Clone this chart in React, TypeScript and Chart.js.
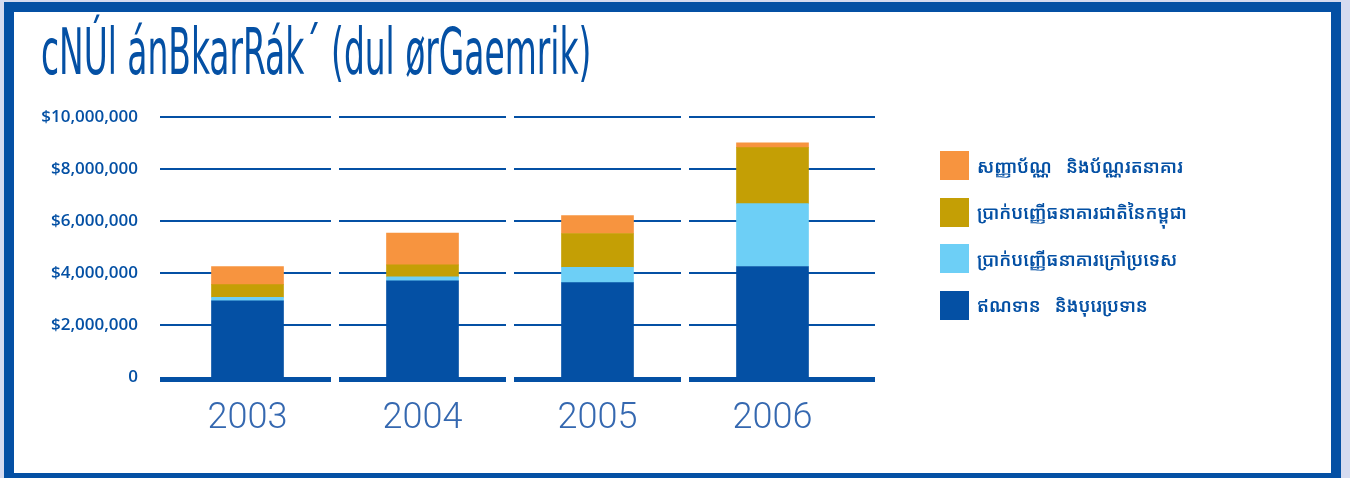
import React, { useEffect, useRef } from "react";
import { Chart, registerables } from "chart.js";

Chart.register(...registerables);

const titleText = "cNÚl ánBkarRák´ (dul ørGaemrik)";
const years = ["2003", "2004", "2005", "2006"];
const loans = [2930000, 3700000, 3630000, 4250000];
const foreignDeposits = [130000, 150000, 590000, 2420000];
const nbcDeposits = [490000, 460000, 1300000, 2150000];
const bonds = [700000, 1230000, 690000, 190000];
const seriesLabels = [
  "ឥណទាន   និងបុរេប្រទាន",
  "ប្រាក់បញ្ញើធនាគារក្រៅប្រទេស",
  "ប្រាក់បញ្ញើធនាគារជាតិនៃកម្ពុជា",
  "សញ្ញាប័ណ្ណ   និងប័ណ្ណរតនាគារ",
];
const seriesColors = ["#0450a4", "#6dcff6", "#c49f05", "#f7943f"];
const yTickValues = [0, 2000000, 4000000, 6000000, 8000000, 10000000];

const BLUE = "#0450a4";

const segmentGrid = {
  id: "segmentGrid",
  beforeDatasetsDraw(chart: any) {
    const { ctx, chartArea, scales } = chart;
    const xs = scales.x;
    const ys = scales.y;
    const n = years.length;
    const half = (xs.getPixelForValue(1) - xs.getPixelForValue(0)) / 2;
    ctx.save();
    ctx.strokeStyle = BLUE;
    yTickValues.forEach((v) => {
      const y = ys.getPixelForValue(v);
      const lw = v === 0 ? 5 : 2;
      const yy = v === 0 ? y + 2.5 : y;
      ctx.lineWidth = lw;
      for (let i = 0; i < n; i++) {
        const cx = xs.getPixelForValue(i);
        const x0 = i === 0 ? chartArea.left : cx - half + 4;
        const x1 = i === n - 1 ? chartArea.right + 15 : cx + half - 4;
        ctx.beginPath();
        ctx.moveTo(x0, yy);
        ctx.lineTo(x1, yy);
        ctx.stroke();
      }
    });
    ctx.restore();
  },
};

export default function App() {
  const canvasRef = useRef<HTMLCanvasElement | null>(null);
  const titleRef = useRef<HTMLSpanElement | null>(null);

  useEffect(() => {
    const fit = () => {
      const el = titleRef.current;
      if (!el) return;
      el.style.transform = "none";
      const w = el.offsetWidth;
      if (w > 0) el.style.transform = `scaleX(${550 / w})`;
    };
    fit();
    if ((document as any).fonts) (document as any).fonts.ready.then(fit);

    const canvas = canvasRef.current;
    if (!canvas) return;
    const datasetsData = [loans, foreignDeposits, nbcDeposits, bonds];
    const chart = new Chart(canvas, {
      type: "bar",
      data: {
        labels: years,
        datasets: datasetsData.map((d, i) => ({
          label: seriesLabels[i],
          data: d,
          backgroundColor: seriesColors[i],
          borderWidth: 0,
          barThickness: 72,
        })),
      },
      options: {
        animation: false,
        responsive: false,
        maintainAspectRatio: false,
        layout: { padding: { top: 117, bottom: 41, left: 0, right: 490 } },
        plugins: {
          legend: { display: false },
          tooltip: { enabled: false },
          title: { display: false },
        },
        scales: {
          x: {
            stacked: true,
            grid: { display: false, drawTicks: false },
            border: { display: false },
            ticks: {
              color: "#3568b0",
              font: { family: "Roboto", size: 36, weight: "300" },
              padding: 20,
            },
            afterFit: (scale: any) => {
              scale.height = 60;
            },
          },
          y: {
            stacked: true,
            min: 0,
            max: 10000000,
            grid: { display: false, drawTicks: false },
            border: { display: false },
            afterBuildTicks: (scale: any) => {
              scale.ticks = yTickValues.map((v) => ({ value: v }));
            },
            ticks: {
              color: BLUE,
              font: { family: "Open Sans", size: 17, weight: "600" },
              padding: 22,
              callback: (v: any) =>
                Number(v) === 0 ? "0" : "$" + Number(v).toLocaleString("en-US"),
            },
            afterFit: (scale: any) => {
              scale.width = 160;
            },
          },
        },
      },
      plugins: [segmentGrid],
    } as any);
    return () => chart.destroy();
  }, []);

  const legendOrder = [3, 2, 1, 0];

  return (
    <div
      style={{
        position: "fixed",
        left: 0,
        top: 0,
        width: 1350,
        height: 478,
        background: "#d5dbf0",
        overflow: "hidden",
      }}
    >
      <div
        style={{
          position: "absolute",
          left: 4,
          top: 2,
          width: 1317,
          height: 461,
          border: `10px solid ${BLUE}`,
          background: "#ffffff",
        }}
      />
      <div
        style={{
          position: "absolute",
          left: 41,
          top: 20,
          whiteSpace: "nowrap",
          lineHeight: "64px",
          fontSize: 64,
          fontFamily: "'Liberation Sans Narrow', 'DejaVu Sans Condensed', 'Liberation Sans', sans-serif",
          color: BLUE,
        }}
      >
        <span
          ref={titleRef}
          style={{ display: "inline-block", transformOrigin: "0 0" }}
        >
          {titleText}
        </span>
      </div>
      <canvas
        ref={canvasRef}
        width={1350}
        height={478}
        style={{ position: "absolute", left: 0, top: 0, width: 1350, height: 478 }}
      />
      {legendOrder.map((idx, k) => (
        <div
          key={idx}
          style={{
            position: "absolute",
            left: 940,
            top: 151 + k * 46.5,
            height: 29,
            display: "flex",
            alignItems: "center",
            whiteSpace: "pre",
          }}
        >
          <div style={{ width: 29, height: 29, background: seriesColors[idx] }} />
          <span
            style={{
              marginLeft: 8,
              fontSize: 18,
              fontWeight: 600,
              color: BLUE,
              whiteSpace: "pre",
              fontFamily: "'Noto Sans Khmer', 'Khmer OS', 'Noto Serif Khmer', 'Noto Sans', sans-serif",
            }}
          >
            {seriesLabels[idx]}
          </span>
        </div>
      ))}
    </div>
  );
}
